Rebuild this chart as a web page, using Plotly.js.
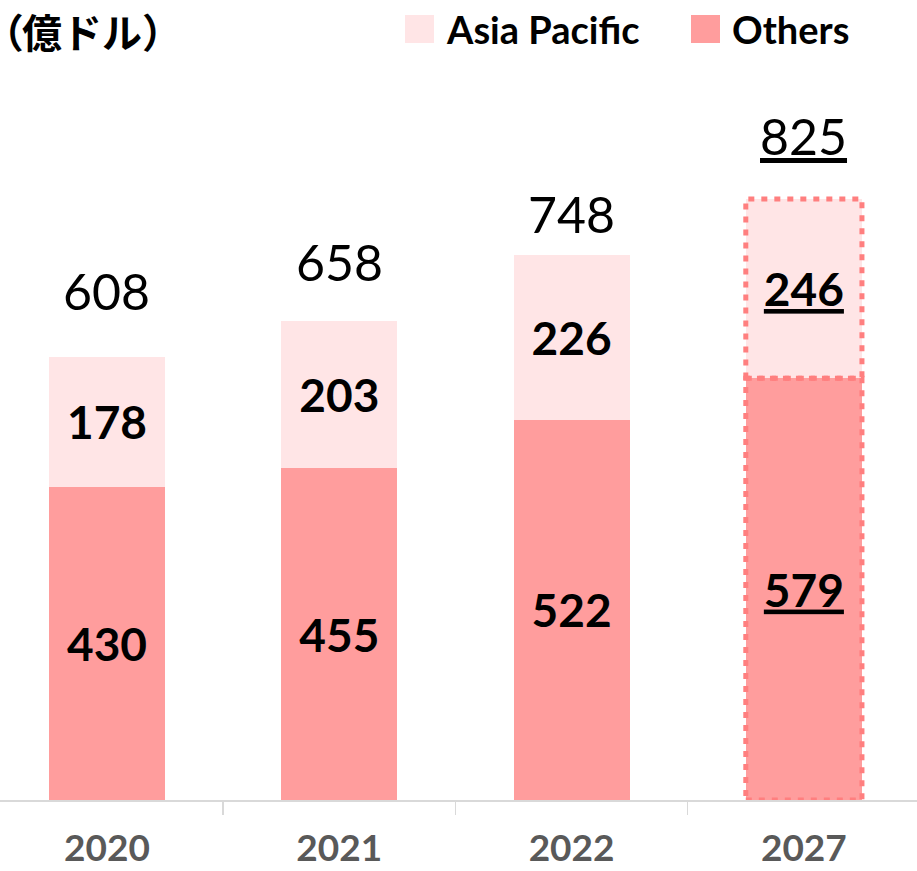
<!DOCTYPE html>
<html>
<head>
<meta charset="utf-8">
<script src="https://cdn.plot.ly/plotly-3.0.1.min.js"></script>
<style>
  html, body { margin: 0; padding: 0; background: #ffffff; }
  #chart { width: 917px; height: 871px; }
</style>
</head>
<body>
<div id="chart"></div>
<script>
// ---- data ----
const categories   = ['2020', '2021', '2022', '2027'];
const asiaPacific  = [178, 203, 226, 246];
const others       = [430, 455, 522, 579];
const totals       = [608, 658, 748, 825];
const highlightCategory = '2027';
const unitLabel    = '（億ドル）';
const seriesNames  = ['Asia Pacific', 'Others'];

// ---- styles ----
const colorOthers = '#FF9D9D';
const colorAsia   = '#FFE5E6';
const colorBorder = '#FF7F7F';
const FONT = 'Lato, "Noto Sans", sans-serif';
const totalLabelOffset = [66, 59, 41, 63]; // px above bar top (label centre)

const isHi = categories.map(c => c === highlightCategory);
const fmt = (v, i) => isHi[i] ? '<u>' + v + '</u>' : String(v);

const traceOthers = {
  type: 'bar',
  name: seriesNames[1],
  x: categories,
  y: others,
  text: others.map(fmt),
  textposition: 'inside',
  insidetextanchor: 'middle',
  textfont: { family: FONT, size: 46, color: '#000000', weight: 'bold' },
  marker: { color: colorOthers, line: { width: 0 } },
  hoverinfo: 'skip',
  showlegend: false
};
const traceAsia = {
  type: 'bar',
  name: seriesNames[0],
  x: categories,
  y: asiaPacific,
  text: asiaPacific.map(fmt),
  textposition: 'inside',
  insidetextanchor: 'middle',
  textfont: { family: FONT, size: 46, color: '#000000', weight: 'bold' },
  marker: { color: colorAsia, line: { width: 0 } },
  hoverinfo: 'skip',
  showlegend: false
};

const annotations = [];
categories.forEach((c, i) => {
  annotations.push({
    x: i, y: totals[i], xref: 'x', yref: 'y',
    text: fmt(totals[i], i),
    showarrow: false,
    xanchor: 'center', yanchor: 'middle',
    yshift: totalLabelOffset[i],
    font: { family: FONT, size: 50, color: '#000000' }
  });
});

// unit label (first paren uses proportional width so it sits at the left edge)
const unitFirst = unitLabel.charAt(0);
const unitRest = unitLabel.slice(1);
annotations.push({
  xref: 'paper', yref: 'paper', x: 0, y: (800 - 31) / 800,
  xanchor: 'left', yanchor: 'middle', xshift: 0,
  text: '<b><span style="font-feature-settings:\'palt\'">' + unitFirst + '</span>' + unitRest + '</b>',
  showarrow: false,
  font: { family: '"Noto Sans CJK JP", sans-serif', size: 40, color: '#000000' }
});

// manual legend
const legendItems = [
  { name: seriesNames[0], color: colorAsia,   sx: 405, tx: 444 },
  { name: seriesNames[1], color: colorOthers, sx: 691, tx: 730 }
];
const shapes = [];
legendItems.forEach(it => {
  shapes.push({
    type: 'rect', xref: 'paper', yref: 'paper',
    x0: it.sx / 917, x1: (it.sx + 29) / 917,
    y0: (800 - 43) / 800, y1: (800 - 15) / 800,
    fillcolor: it.color, line: { width: 0 }
  });
  annotations.push({
    xref: 'paper', yref: 'paper', x: it.tx / 917, y: (800 - 29) / 800,
    xanchor: 'left', yanchor: 'middle', showarrow: false,
    text: it.name,
    font: { family: FONT, size: 38, color: '#000000', weight: 'bold' }
  });
});

// dotted outline around the highlighted (forecast) bar segments
categories.forEach((c, i) => {
  if (!isHi[i]) return;
  const segs = [[0, others[i]], [others[i], others[i] + asiaPacific[i]]];
  segs.forEach(s => {
    shapes.push({
      type: 'rect', xref: 'x', yref: 'y',
      x0: i - 0.25, x1: i + 0.25, y0: s[0], y1: s[1],
      line: { color: colorBorder, width: 5, dash: '6px,7px' },
      fillcolor: 'rgba(0,0,0,0)', layer: 'above'
    });
  });
});

const layout = {
  width: 917, height: 871,
  margin: { l: 0, r: 0, t: 0, b: 71, pad: 0 },
  paper_bgcolor: '#ffffff', plot_bgcolor: '#ffffff',
  barmode: 'stack',
  bargap: 0.5,
  showlegend: false,
  xaxis: {
    type: 'category',
    range: [-0.4606, 3.487],
    showline: true, linecolor: '#D9D9D9', linewidth: 2,
    ticks: 'outside', tickson: 'boundaries', ticklen: 13,
    tickcolor: '#D9D9D9', tickwidth: 1.5,
    ticklabelstandoff: 15,
    tickfont: { family: FONT, size: 37, color: '#595959', weight: 'bold' },
    showgrid: false, zeroline: false, fixedrange: true
  },
  yaxis: {
    range: [0, 1098],
    visible: false, showgrid: false, zeroline: false, fixedrange: true
  },
  annotations: annotations,
  shapes: shapes
};

Plotly.newPlot('chart', [traceOthers, traceAsia], layout, { staticPlot: true, displayModeBar: false });
</script>
</body>
</html>
